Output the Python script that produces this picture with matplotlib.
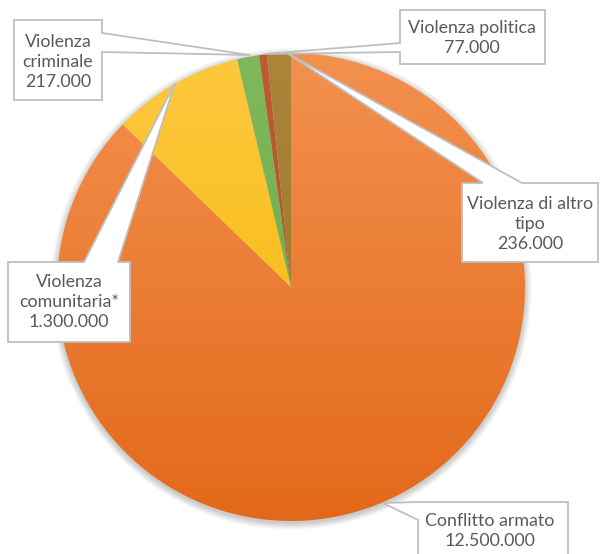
import matplotlib
matplotlib.use("Agg")
import matplotlib.pyplot as plt
import numpy as np
from matplotlib.colors import to_rgb
from matplotlib.patches import Polygon

# vittime per tipo di violenza
categorie = ["Conflitto armato", "Violenza comunitaria*", "Violenza criminale",
             "Violenza politica", "Violenza di altro tipo"]
etichette = ["Conflitto armato", "Violenza\ncomunitaria*", "Violenza\ncriminale",
             "Violenza politica", "Violenza di altro\ntipo"]
valori = [12_500_000, 1_300_000, 217_000, 77_000, 236_000]

# gradiente verticale (alto, basso) per ogni fetta
colori = [("#F3914F", "#E3691A"), ("#FEC83F", "#F4B600"), ("#80B95C", "#69A43E"),
          ("#BC5C32", "#AE4F26"), ("#AB853A", "#97711E")]

W, H = 601, 554
CX, CY, R = 291, 287, 234  # centro e raggio, coordinate immagine


def fy(y):
    return H - y


def fmt(v):
    return f"{v:,}".replace(",", ".")


fig = plt.figure(figsize=(W / 100, H / 100), dpi=100)
ax = fig.add_axes([0, 0, 1, 1])

# ombra morbida attorno alla torta
xs, ys = np.meshgrid(np.arange(W) + 0.5, np.arange(H) + 0.5)
d = np.hypot(xs - CX, ys - (fy(CY) - 2))
a = 0.45 * np.clip(1 - (d - R) / 7.0, 0, 1)
shadow = np.zeros((H, W, 4))
shadow[..., :3] = 0.55
shadow[..., 3] = a
ax.imshow(shadow, extent=(0, W, 0, H), origin="lower", zorder=0)

wedges, _ = ax.pie(valori, startangle=90, counterclock=False,
                   center=(CX, fy(CY)), radius=R,
                   wedgeprops=dict(edgecolor="none"))

t = np.linspace(0, 1, 256)[:, None, None]
for w, (top, bot) in zip(wedges, colori):
    w.set_facecolor("none")
    c0, c1 = np.array(to_rgb(bot)), np.array(to_rgb(top))
    grad = c0 * (1 - t) + c1 * t
    im = ax.imshow(grad, extent=(CX - R, CX + R, fy(CY) - R, fy(CY) + R),
                   origin="lower", aspect="auto", zorder=2)
    im.set_clip_path(w)

# callout: riquadro, lato del puntatore, base del puntatore, punta, testo
callouts = [
    ((418, 502, 568, 566), "left", (502, 520), (383, 503), (490, 531)),
    ((8, 262, 130, 342), "top", (84, 118), (175, 83), (69, 302)),
    ((14, 20, 102, 100), "right", (33, 52), (250, 55), (58, 62)),
    ((400, 10, 545, 64), "left", (43, 52), (265, 54), (472, 38)),
    ((462, 183, 598, 262), "top", (483, 522), (287, 53), (530, 224)),
]

for (box, side, (p, q), tip, pos), lab, v in zip(callouts, etichette, valori):
    x0, y0, x1, y1 = box
    if side == "top":
        pts = [(x0, y0), (p, y0), tip, (q, y0), (x1, y0), (x1, y1), (x0, y1)]
    elif side == "right":
        pts = [(x0, y0), (x1, y0), (x1, p), tip, (x1, q), (x1, y1), (x0, y1)]
    else:
        pts = [(x0, y0), (x1, y0), (x1, y1), (x0, y1), (x0, q), tip, (x0, p)]
    pts = [(x, fy(y)) for x, y in pts]
    ax.add_patch(Polygon(pts, closed=True, facecolor="white", edgecolor="#BFBFBF",
                         linewidth=1.3, zorder=5, joinstyle="miter"))
    ax.text(pos[0], fy(pos[1]), f"{lab}\n{fmt(v)}", ha="center", va="center",
            fontsize=12.8, color="#595959", family=["Lato", "DejaVu Sans"],
            linespacing=1.33, zorder=6)

ax.set_xlim(0, W)
ax.set_ylim(0, H)
ax.set_aspect("equal")
ax.axis("off")

fig.savefig("out.png", dpi=100, facecolor="white")
